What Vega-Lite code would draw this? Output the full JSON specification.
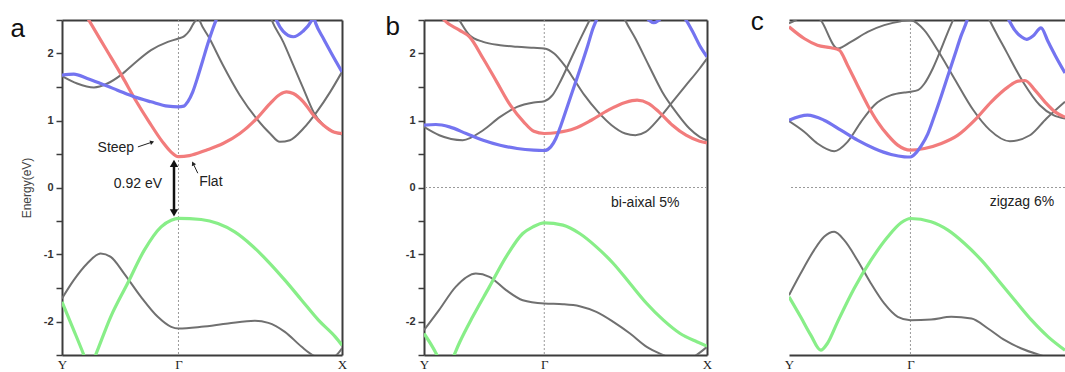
{
"$schema": "https://vega.github.io/schema/vega-lite/v6.json",
"padding": {"left": 10, "top": 9, "right": 0, "bottom": 0},
"background": "white",
"config": {
  "view": {"stroke": null},
  "font": "Liberation Sans",
  "axis": {"grid": false, "domainColor": "#3c3c3c", "domainWidth": 2, "tickColor": "#3c3c3c", "labelColor": "#333333", "titleColor": "#444444"}
},
"datasets": {
"bands": [
{"p":"a","b":"ar","c":"red","k":0.080,"e":2.61},{"p":"a","b":"ar","c":"red","k":0.096,"e":2.497},{"p":"a","b":"ar","c":"red","k":0.156,"e":2.074},{"p":"a","b":"ar","c":"red","k":0.216,"e":1.651},{"p":"a","b":"ar","c":"red","k":0.263,"e":1.303},{"p":"a","b":"ar","c":"red","k":0.311,"e":0.980},{"p":"a","b":"ar","c":"red","k":0.359,"e":0.681},{"p":"a","b":"ar","c":"red","k":0.389,"e":0.532},{"p":"a","b":"ar","c":"red","k":0.416,"e":0.460},{"p":"a","b":"ar","c":"red","k":0.455,"e":0.475},{"p":"a","b":"ar","c":"red","k":0.515,"e":0.557},{"p":"a","b":"ar","c":"red","k":0.575,"e":0.656},{"p":"a","b":"ar","c":"red","k":0.635,"e":0.806},{"p":"a","b":"ar","c":"red","k":0.695,"e":1.029},{"p":"a","b":"ar","c":"red","k":0.743,"e":1.253},{"p":"a","b":"ar","c":"red","k":0.778,"e":1.388},{"p":"a","b":"ar","c":"red","k":0.802,"e":1.427},{"p":"a","b":"ar","c":"red","k":0.826,"e":1.402},{"p":"a","b":"ar","c":"red","k":0.862,"e":1.278},{"p":"a","b":"ar","c":"red","k":0.898,"e":1.079},{"p":"a","b":"ar","c":"red","k":0.934,"e":0.929},{"p":"a","b":"ar","c":"red","k":0.970,"e":0.830},{"p":"a","b":"ar","c":"red","k":1.0,"e":0.806},
{"p":"a","b":"ab1","c":"blue","k":0.0,"e":1.677},{"p":"a","b":"ab1","c":"blue","k":0.042,"e":1.692},{"p":"a","b":"ab1","c":"blue","k":0.090,"e":1.627},{"p":"a","b":"ab1","c":"blue","k":0.138,"e":1.552},{"p":"a","b":"ab1","c":"blue","k":0.198,"e":1.453},{"p":"a","b":"ab1","c":"blue","k":0.258,"e":1.353},{"p":"a","b":"ab1","c":"blue","k":0.318,"e":1.279},{"p":"a","b":"ab1","c":"blue","k":0.378,"e":1.214},{"p":"a","b":"ab1","c":"blue","k":0.416,"e":1.204},{"p":"a","b":"ab1","c":"blue","k":0.435,"e":1.214},{"p":"a","b":"ab1","c":"blue","k":0.449,"e":1.279},{"p":"a","b":"ab1","c":"blue","k":0.467,"e":1.428},{"p":"a","b":"ab1","c":"blue","k":0.485,"e":1.652},{"p":"a","b":"ab1","c":"blue","k":0.503,"e":1.900},{"p":"a","b":"ab1","c":"blue","k":0.521,"e":2.149},{"p":"a","b":"ab1","c":"blue","k":0.539,"e":2.373},{"p":"a","b":"ab1","c":"blue","k":0.557,"e":2.572},
{"p":"a","b":"ab2","c":"blue","k":0.755,"e":2.62},{"p":"a","b":"ab2","c":"blue","k":0.766,"e":2.497},{"p":"a","b":"ab2","c":"blue","k":0.790,"e":2.33},{"p":"a","b":"ab2","c":"blue","k":0.826,"e":2.25},{"p":"a","b":"ab2","c":"blue","k":0.860,"e":2.33},{"p":"a","b":"ab2","c":"blue","k":0.892,"e":2.497},{"p":"a","b":"ab2","c":"blue","k":0.898,"e":2.55},{"p":"a","b":"ab2","c":"blue","k":0.906,"e":2.45},{"p":"a","b":"ab2","c":"blue","k":0.934,"e":2.22},{"p":"a","b":"ab2","c":"blue","k":0.964,"e":1.99},{"p":"a","b":"ab2","c":"blue","k":1.0,"e":1.726},
{"p":"a","b":"ag","c":"green","k":0.0,"e":-1.706},{"p":"a","b":"ag","c":"green","k":0.04,"e":-2.11},{"p":"a","b":"ag","c":"green","k":0.078,"e":-2.5},{"p":"a","b":"ag","c":"green","k":0.098,"e":-2.72},{"p":"a","b":"ag","c":"green","k":0.12,"e":-2.5},{"p":"a","b":"ag","c":"green","k":0.174,"e":-1.93},{"p":"a","b":"ag","c":"green","k":0.234,"e":-1.433},{"p":"a","b":"ag","c":"green","k":0.294,"e":-0.935},{"p":"a","b":"ag","c":"green","k":0.354,"e":-0.587},{"p":"a","b":"ag","c":"green","k":0.390,"e":-0.488},{"p":"a","b":"ag","c":"green","k":0.416,"e":-0.460},{"p":"a","b":"ag","c":"green","k":0.497,"e":-0.478},{"p":"a","b":"ag","c":"green","k":0.557,"e":-0.537},{"p":"a","b":"ag","c":"green","k":0.617,"e":-0.662},{"p":"a","b":"ag","c":"green","k":0.677,"e":-0.861},{"p":"a","b":"ag","c":"green","k":0.737,"e":-1.109},{"p":"a","b":"ag","c":"green","k":0.796,"e":-1.383},{"p":"a","b":"ag","c":"green","k":0.856,"e":-1.682},{"p":"a","b":"ag","c":"green","k":0.916,"e":-1.980},{"p":"a","b":"ag","c":"green","k":0.976,"e":-2.229},{"p":"a","b":"ag","c":"green","k":1.0,"e":-2.353},
{"p":"a","b":"ak1","c":"gray","k":0.0,"e":1.662},{"p":"a","b":"ak1","c":"gray","k":0.054,"e":1.552},{"p":"a","b":"ak1","c":"gray","k":0.114,"e":1.493},{"p":"a","b":"ak1","c":"gray","k":0.162,"e":1.552},{"p":"a","b":"ak1","c":"gray","k":0.210,"e":1.677},{"p":"a","b":"ak1","c":"gray","k":0.258,"e":1.851},{"p":"a","b":"ak1","c":"gray","k":0.318,"e":2.050},{"p":"a","b":"ak1","c":"gray","k":0.378,"e":2.174},{"p":"a","b":"ak1","c":"gray","k":0.416,"e":2.224},{"p":"a","b":"ak1","c":"gray","k":0.437,"e":2.26},{"p":"a","b":"ak1","c":"gray","k":0.455,"e":2.34},{"p":"a","b":"ak1","c":"gray","k":0.470,"e":2.45},{"p":"a","b":"ak1","c":"gray","k":0.479,"e":2.50},{"p":"a","b":"ak1","c":"gray","k":0.49,"e":2.58},
{"p":"a","b":"ak2","c":"gray","k":0.484,"e":2.58},{"p":"a","b":"ak2","c":"gray","k":0.491,"e":2.497},{"p":"a","b":"ak2","c":"gray","k":0.527,"e":2.223},{"p":"a","b":"ak2","c":"gray","k":0.575,"e":1.825},{"p":"a","b":"ak2","c":"gray","k":0.635,"e":1.378},{"p":"a","b":"ak2","c":"gray","k":0.695,"e":1.029},{"p":"a","b":"ak2","c":"gray","k":0.743,"e":0.806},{"p":"a","b":"ak2","c":"gray","k":0.778,"e":0.681},{"p":"a","b":"ak2","c":"gray","k":0.814,"e":0.706},{"p":"a","b":"ak2","c":"gray","k":0.862,"e":0.880},{"p":"a","b":"ak2","c":"gray","k":0.910,"e":1.129},{"p":"a","b":"ak2","c":"gray","k":0.958,"e":1.427},{"p":"a","b":"ak2","c":"gray","k":1.0,"e":1.726},
{"p":"a","b":"ak3","c":"gray","k":0.738,"e":2.62},{"p":"a","b":"ak3","c":"gray","k":0.749,"e":2.497},{"p":"a","b":"ak3","c":"gray","k":0.790,"e":2.174},{"p":"a","b":"ak3","c":"gray","k":0.826,"e":1.825},{"p":"a","b":"ak3","c":"gray","k":0.862,"e":1.477},{"p":"a","b":"ak3","c":"gray","k":0.898,"e":1.129},{"p":"a","b":"ak3","c":"gray","k":0.934,"e":0.930},{"p":"a","b":"ak3","c":"gray","k":0.970,"e":0.830},{"p":"a","b":"ak3","c":"gray","k":1.0,"e":0.791},
{"p":"a","b":"ak4","c":"gray","k":0.0,"e":-1.657},{"p":"a","b":"ak4","c":"gray","k":0.042,"e":-1.383},{"p":"a","b":"ak4","c":"gray","k":0.090,"e":-1.134},{"p":"a","b":"ak4","c":"gray","k":0.138,"e":-0.985},{"p":"a","b":"ak4","c":"gray","k":0.174,"e":-1.035},{"p":"a","b":"ak4","c":"gray","k":0.222,"e":-1.284},{"p":"a","b":"ak4","c":"gray","k":0.282,"e":-1.632},{"p":"a","b":"ak4","c":"gray","k":0.342,"e":-1.930},{"p":"a","b":"ak4","c":"gray","k":0.390,"e":-2.080},{"p":"a","b":"ak4","c":"gray","k":0.416,"e":-2.104},{"p":"a","b":"ak4","c":"gray","k":0.497,"e":-2.080},{"p":"a","b":"ak4","c":"gray","k":0.593,"e":-2.030},{"p":"a","b":"ak4","c":"gray","k":0.689,"e":-1.990},{"p":"a","b":"ak4","c":"gray","k":0.737,"e":-2.020},{"p":"a","b":"ak4","c":"gray","k":0.796,"e":-2.154},{"p":"a","b":"ak4","c":"gray","k":0.856,"e":-2.378},{"p":"a","b":"ak4","c":"gray","k":0.892,"e":-2.493},{"p":"a","b":"ak4","c":"gray","k":0.928,"e":-2.55},{"p":"a","b":"ak4","c":"gray","k":0.970,"e":-2.53},{"p":"a","b":"ak4","c":"gray","k":1.0,"e":-2.40},

{"p":"b","b":"br","c":"red","k":0.06,"e":2.56},{"p":"b","b":"br","c":"red","k":0.072,"e":2.497},{"p":"b","b":"br","c":"red","k":0.125,"e":2.348},{"p":"b","b":"br","c":"red","k":0.161,"e":2.248},{"p":"b","b":"br","c":"red","k":0.209,"e":1.925},{"p":"b","b":"br","c":"red","k":0.257,"e":1.577},{"p":"b","b":"br","c":"red","k":0.305,"e":1.228},{"p":"b","b":"br","c":"red","k":0.352,"e":0.980},{"p":"b","b":"br","c":"red","k":0.388,"e":0.840},{"p":"b","b":"br","c":"red","k":0.425,"e":0.806},{"p":"b","b":"br","c":"red","k":0.472,"e":0.821},{"p":"b","b":"br","c":"red","k":0.532,"e":0.880},{"p":"b","b":"br","c":"red","k":0.591,"e":1.004},{"p":"b","b":"br","c":"red","k":0.651,"e":1.154},{"p":"b","b":"br","c":"red","k":0.711,"e":1.268},{"p":"b","b":"br","c":"red","k":0.753,"e":1.303},{"p":"b","b":"br","c":"red","k":0.794,"e":1.253},{"p":"b","b":"br","c":"red","k":0.830,"e":1.129},{"p":"b","b":"br","c":"red","k":0.878,"e":0.930},{"p":"b","b":"br","c":"red","k":0.926,"e":0.780},{"p":"b","b":"br","c":"red","k":0.974,"e":0.691},{"p":"b","b":"br","c":"red","k":1.0,"e":0.666},
{"p":"b","b":"bb1","c":"blue","k":0.0,"e":0.930},{"p":"b","b":"bb1","c":"blue","k":0.042,"e":0.940},{"p":"b","b":"bb1","c":"blue","k":0.090,"e":0.905},{"p":"b","b":"bb1","c":"blue","k":0.149,"e":0.806},{"p":"b","b":"bb1","c":"blue","k":0.209,"e":0.706},{"p":"b","b":"bb1","c":"blue","k":0.269,"e":0.631},{"p":"b","b":"bb1","c":"blue","k":0.329,"e":0.582},{"p":"b","b":"bb1","c":"blue","k":0.388,"e":0.557},{"p":"b","b":"bb1","c":"blue","k":0.425,"e":0.552},{"p":"b","b":"bb1","c":"blue","k":0.448,"e":0.607},{"p":"b","b":"bb1","c":"blue","k":0.466,"e":0.731},{"p":"b","b":"bb1","c":"blue","k":0.484,"e":0.930},{"p":"b","b":"bb1","c":"blue","k":0.508,"e":1.228},{"p":"b","b":"bb1","c":"blue","k":0.532,"e":1.527},{"p":"b","b":"bb1","c":"blue","k":0.556,"e":1.825},{"p":"b","b":"bb1","c":"blue","k":0.579,"e":2.124},{"p":"b","b":"bb1","c":"blue","k":0.597,"e":2.373},{"p":"b","b":"bb1","c":"blue","k":0.609,"e":2.497},{"p":"b","b":"bb1","c":"blue","k":0.62,"e":2.6},
{"p":"b","b":"bb2","c":"blue","k":0.771,"e":2.621},{"p":"b","b":"bb2","c":"blue","k":0.795,"e":2.497},{"p":"b","b":"bb2","c":"blue","k":0.812,"e":2.46},{"p":"b","b":"bb2","c":"blue","k":0.830,"e":2.497},{"p":"b","b":"bb2","c":"blue","k":0.854,"e":2.621},{"p":"b","b":"bb2","c":"blue","k":0.878,"e":2.72},{"p":"b","b":"bb2","c":"blue","k":0.902,"e":2.621},{"p":"b","b":"bb2","c":"blue","k":0.926,"e":2.497},{"p":"b","b":"bb2","c":"blue","k":0.950,"e":2.32},{"p":"b","b":"bb2","c":"blue","k":0.974,"e":2.12},{"p":"b","b":"bb2","c":"blue","k":1.0,"e":1.95},
{"p":"b","b":"bg","c":"green","k":0.0,"e":-2.179},{"p":"b","b":"bg","c":"green","k":0.030,"e":-2.378},{"p":"b","b":"bg","c":"green","k":0.056,"e":-2.577},{"p":"b","b":"bg","c":"green","k":0.077,"e":-2.726},{"p":"b","b":"bg","c":"green","k":0.098,"e":-2.577},{"p":"b","b":"bg","c":"green","k":0.124,"e":-2.328},{"p":"b","b":"bg","c":"green","k":0.172,"e":-1.930},{"p":"b","b":"bg","c":"green","k":0.231,"e":-1.483},{"p":"b","b":"bg","c":"green","k":0.290,"e":-1.035},{"p":"b","b":"bg","c":"green","k":0.349,"e":-0.687},{"p":"b","b":"bg","c":"green","k":0.385,"e":-0.587},{"p":"b","b":"bg","c":"green","k":0.425,"e":-0.527},{"p":"b","b":"bg","c":"green","k":0.491,"e":-0.562},{"p":"b","b":"bg","c":"green","k":0.550,"e":-0.687},{"p":"b","b":"bg","c":"green","k":0.609,"e":-0.886},{"p":"b","b":"bg","c":"green","k":0.669,"e":-1.134},{"p":"b","b":"bg","c":"green","k":0.728,"e":-1.433},{"p":"b","b":"bg","c":"green","k":0.787,"e":-1.731},{"p":"b","b":"bg","c":"green","k":0.846,"e":-1.980},{"p":"b","b":"bg","c":"green","k":0.905,"e":-2.179},{"p":"b","b":"bg","c":"green","k":0.964,"e":-2.303},{"p":"b","b":"bg","c":"green","k":1.0,"e":-2.368},
{"p":"b","b":"bk1","c":"gray","k":0.0,"e":0.905},{"p":"b","b":"bk1","c":"gray","k":0.054,"e":0.780},{"p":"b","b":"bk1","c":"gray","k":0.137,"e":0.706},{"p":"b","b":"bk1","c":"gray","k":0.209,"e":0.855},{"p":"b","b":"bk1","c":"gray","k":0.269,"e":1.054},{"p":"b","b":"bk1","c":"gray","k":0.329,"e":1.203},{"p":"b","b":"bk1","c":"gray","k":0.388,"e":1.268},{"p":"b","b":"bk1","c":"gray","k":0.425,"e":1.288},{"p":"b","b":"bk1","c":"gray","k":0.454,"e":1.378},{"p":"b","b":"bk1","c":"gray","k":0.484,"e":1.601},{"p":"b","b":"bk1","c":"gray","k":0.520,"e":1.925},{"p":"b","b":"bk1","c":"gray","k":0.556,"e":2.248},{"p":"b","b":"bk1","c":"gray","k":0.585,"e":2.497},{"p":"b","b":"bk1","c":"gray","k":0.595,"e":2.58},
{"p":"b","b":"bk2","c":"gray","k":0.11,"e":2.6},{"p":"b","b":"bk2","c":"gray","k":0.125,"e":2.497},{"p":"b","b":"bk2","c":"gray","k":0.161,"e":2.273},{"p":"b","b":"bk2","c":"gray","k":0.209,"e":2.174},{"p":"b","b":"bk2","c":"gray","k":0.269,"e":2.124},{"p":"b","b":"bk2","c":"gray","k":0.329,"e":2.099},{"p":"b","b":"bk2","c":"gray","k":0.388,"e":2.084},{"p":"b","b":"bk2","c":"gray","k":0.425,"e":2.074},{"p":"b","b":"bk2","c":"gray","k":0.460,"e":1.999},{"p":"b","b":"bk2","c":"gray","k":0.496,"e":1.825},{"p":"b","b":"bk2","c":"gray","k":0.532,"e":1.601},{"p":"b","b":"bk2","c":"gray","k":0.567,"e":1.378},{"p":"b","b":"bk2","c":"gray","k":0.615,"e":1.129},{"p":"b","b":"bk2","c":"gray","k":0.663,"e":0.930},{"p":"b","b":"bk2","c":"gray","k":0.711,"e":0.806},{"p":"b","b":"bk2","c":"gray","k":0.747,"e":0.781},{"p":"b","b":"bk2","c":"gray","k":0.783,"e":0.830},{"p":"b","b":"bk2","c":"gray","k":0.830,"e":1.029},{"p":"b","b":"bk2","c":"gray","k":0.878,"e":1.278},{"p":"b","b":"bk2","c":"gray","k":0.926,"e":1.527},{"p":"b","b":"bk2","c":"gray","k":0.974,"e":1.776},{"p":"b","b":"bk2","c":"gray","k":1.0,"e":1.925},
{"p":"b","b":"bk3","c":"gray","k":0.70,"e":2.6},{"p":"b","b":"bk3","c":"gray","k":0.711,"e":2.497},{"p":"b","b":"bk3","c":"gray","k":0.747,"e":2.223},{"p":"b","b":"bk3","c":"gray","k":0.794,"e":1.825},{"p":"b","b":"bk3","c":"gray","k":0.842,"e":1.427},{"p":"b","b":"bk3","c":"gray","k":0.890,"e":1.129},{"p":"b","b":"bk3","c":"gray","k":0.938,"e":0.880},{"p":"b","b":"bk3","c":"gray","k":0.974,"e":0.756},{"p":"b","b":"bk3","c":"gray","k":1.0,"e":0.706},
{"p":"b","b":"bk4","c":"gray","k":0.0,"e":-2.129},{"p":"b","b":"bk4","c":"gray","k":0.053,"e":-1.831},{"p":"b","b":"bk4","c":"gray","k":0.112,"e":-1.483},{"p":"b","b":"bk4","c":"gray","k":0.183,"e":-1.284},{"p":"b","b":"bk4","c":"gray","k":0.231,"e":-1.333},{"p":"b","b":"bk4","c":"gray","k":0.290,"e":-1.532},{"p":"b","b":"bk4","c":"gray","k":0.349,"e":-1.682},{"p":"b","b":"bk4","c":"gray","k":0.425,"e":-1.731},{"p":"b","b":"bk4","c":"gray","k":0.491,"e":-1.741},{"p":"b","b":"bk4","c":"gray","k":0.550,"e":-1.771},{"p":"b","b":"bk4","c":"gray","k":0.609,"e":-1.856},{"p":"b","b":"bk4","c":"gray","k":0.669,"e":-2.005},{"p":"b","b":"bk4","c":"gray","k":0.728,"e":-2.179},{"p":"b","b":"bk4","c":"gray","k":0.787,"e":-2.378},{"p":"b","b":"bk4","c":"gray","k":0.846,"e":-2.502},{"p":"b","b":"bk4","c":"gray","k":0.905,"e":-2.602},{"p":"b","b":"bk4","c":"gray","k":0.953,"e":-2.527},{"p":"b","b":"bk4","c":"gray","k":1.0,"e":-2.378},

{"p":"c","b":"cr","c":"red","k":0.0,"e":2.398},{"p":"c","b":"cr","c":"red","k":0.055,"e":2.224},{"p":"c","b":"cr","c":"red","k":0.103,"e":2.124},{"p":"c","b":"cr","c":"red","k":0.152,"e":2.085},{"p":"c","b":"cr","c":"red","k":0.182,"e":2.050},{"p":"c","b":"cr","c":"red","k":0.212,"e":1.826},{"p":"c","b":"cr","c":"red","k":0.248,"e":1.527},{"p":"c","b":"cr","c":"red","k":0.285,"e":1.229},{"p":"c","b":"cr","c":"red","k":0.321,"e":0.980},{"p":"c","b":"cr","c":"red","k":0.358,"e":0.781},{"p":"c","b":"cr","c":"red","k":0.394,"e":0.632},{"p":"c","b":"cr","c":"red","k":0.44,"e":0.557},{"p":"c","b":"cr","c":"red","k":0.491,"e":0.582},{"p":"c","b":"cr","c":"red","k":0.552,"e":0.657},{"p":"c","b":"cr","c":"red","k":0.612,"e":0.781},{"p":"c","b":"cr","c":"red","k":0.673,"e":1.005},{"p":"c","b":"cr","c":"red","k":0.733,"e":1.279},{"p":"c","b":"cr","c":"red","k":0.794,"e":1.502},{"p":"c","b":"cr","c":"red","k":0.830,"e":1.587},{"p":"c","b":"cr","c":"red","k":0.855,"e":1.597},{"p":"c","b":"cr","c":"red","k":0.891,"e":1.453},{"p":"c","b":"cr","c":"red","k":0.927,"e":1.279},{"p":"c","b":"cr","c":"red","k":0.964,"e":1.129},{"p":"c","b":"cr","c":"red","k":1.0,"e":1.05},
{"p":"c","b":"cb1","c":"blue","k":0.0,"e":1.005},{"p":"c","b":"cb1","c":"blue","k":0.067,"e":1.080},{"p":"c","b":"cb1","c":"blue","k":0.127,"e":1.005},{"p":"c","b":"cb1","c":"blue","k":0.188,"e":0.856},{"p":"c","b":"cb1","c":"blue","k":0.248,"e":0.706},{"p":"c","b":"cb1","c":"blue","k":0.309,"e":0.582},{"p":"c","b":"cb1","c":"blue","k":0.370,"e":0.493},{"p":"c","b":"cb1","c":"blue","k":0.418,"e":0.458},{"p":"c","b":"cb1","c":"blue","k":0.44,"e":0.455},{"p":"c","b":"cb1","c":"blue","k":0.461,"e":0.52},{"p":"c","b":"cb1","c":"blue","k":0.479,"e":0.62},{"p":"c","b":"cb1","c":"blue","k":0.503,"e":0.80},{"p":"c","b":"cb1","c":"blue","k":0.527,"e":1.07},{"p":"c","b":"cb1","c":"blue","k":0.552,"e":1.37},{"p":"c","b":"cb1","c":"blue","k":0.576,"e":1.67},{"p":"c","b":"cb1","c":"blue","k":0.600,"e":1.97},{"p":"c","b":"cb1","c":"blue","k":0.624,"e":2.27},{"p":"c","b":"cb1","c":"blue","k":0.645,"e":2.497},{"p":"c","b":"cb1","c":"blue","k":0.652,"e":2.6},
{"p":"c","b":"cb2","c":"blue","k":0.782,"e":2.62},{"p":"c","b":"cb2","c":"blue","k":0.797,"e":2.497},{"p":"c","b":"cb2","c":"blue","k":0.818,"e":2.348},{"p":"c","b":"cb2","c":"blue","k":0.842,"e":2.249},{"p":"c","b":"cb2","c":"blue","k":0.861,"e":2.21},{"p":"c","b":"cb2","c":"blue","k":0.885,"e":2.264},{"p":"c","b":"cb2","c":"blue","k":0.913,"e":2.383},{"p":"c","b":"cb2","c":"blue","k":0.939,"e":2.174},{"p":"c","b":"cb2","c":"blue","k":0.964,"e":1.975},{"p":"c","b":"cb2","c":"blue","k":1.0,"e":1.71},
{"p":"c","b":"cg","c":"green","k":0.0,"e":-1.632},{"p":"c","b":"cg","c":"green","k":0.042,"e":-1.930},{"p":"c","b":"cg","c":"green","k":0.079,"e":-2.204},{"p":"c","b":"cg","c":"green","k":0.115,"e":-2.428},{"p":"c","b":"cg","c":"green","k":0.139,"e":-2.328},{"p":"c","b":"cg","c":"green","k":0.176,"e":-2.005},{"p":"c","b":"cg","c":"green","k":0.236,"e":-1.507},{"p":"c","b":"cg","c":"green","k":0.297,"e":-1.085},{"p":"c","b":"cg","c":"green","k":0.358,"e":-0.736},{"p":"c","b":"cg","c":"green","k":0.406,"e":-0.527},{"p":"c","b":"cg","c":"green","k":0.44,"e":-0.463},{"p":"c","b":"cg","c":"green","k":0.515,"e":-0.512},{"p":"c","b":"cg","c":"green","k":0.576,"e":-0.637},{"p":"c","b":"cg","c":"green","k":0.636,"e":-0.836},{"p":"c","b":"cg","c":"green","k":0.697,"e":-1.085},{"p":"c","b":"cg","c":"green","k":0.758,"e":-1.383},{"p":"c","b":"cg","c":"green","k":0.818,"e":-1.682},{"p":"c","b":"cg","c":"green","k":0.879,"e":-1.980},{"p":"c","b":"cg","c":"green","k":0.939,"e":-2.229},{"p":"c","b":"cg","c":"green","k":1.0,"e":-2.428},
{"p":"c","b":"ck1","c":"gray","k":0.0,"e":0.990},{"p":"c","b":"ck1","c":"gray","k":0.055,"e":0.831},{"p":"c","b":"ck1","c":"gray","k":0.103,"e":0.657},{"p":"c","b":"ck1","c":"gray","k":0.164,"e":0.542},{"p":"c","b":"ck1","c":"gray","k":0.212,"e":0.682},{"p":"c","b":"ck1","c":"gray","k":0.261,"e":0.980},{"p":"c","b":"ck1","c":"gray","k":0.309,"e":1.229},{"p":"c","b":"ck1","c":"gray","k":0.370,"e":1.378},{"p":"c","b":"ck1","c":"gray","k":0.418,"e":1.418},{"p":"c","b":"ck1","c":"gray","k":0.44,"e":1.428},{"p":"c","b":"ck1","c":"gray","k":0.467,"e":1.453},{"p":"c","b":"ck1","c":"gray","k":0.491,"e":1.552},{"p":"c","b":"ck1","c":"gray","k":0.521,"e":1.776},{"p":"c","b":"ck1","c":"gray","k":0.552,"e":2.075},{"p":"c","b":"ck1","c":"gray","k":0.576,"e":2.323},{"p":"c","b":"ck1","c":"gray","k":0.594,"e":2.497},{"p":"c","b":"ck1","c":"gray","k":0.604,"e":2.6},
{"p":"c","b":"ck2","c":"gray","k":0.0,"e":2.45},{"p":"c","b":"ck2","c":"gray","k":0.024,"e":2.497},{"p":"c","b":"ck2","c":"gray","k":0.07,"e":2.65},{"p":"c","b":"ck2","c":"gray","k":0.115,"e":2.497},{"p":"c","b":"ck2","c":"gray","k":0.176,"e":2.075},{"p":"c","b":"ck2","c":"gray","k":0.224,"e":2.174},{"p":"c","b":"ck2","c":"gray","k":0.285,"e":2.323},{"p":"c","b":"ck2","c":"gray","k":0.345,"e":2.423},{"p":"c","b":"ck2","c":"gray","k":0.406,"e":2.483},{"p":"c","b":"ck2","c":"gray","k":0.44,"e":2.497},{"p":"c","b":"ck2","c":"gray","k":0.49,"e":2.35},{"p":"c","b":"ck2","c":"gray","k":0.54,"e":2.04},{"p":"c","b":"ck2","c":"gray","k":0.60,"e":1.62},{"p":"c","b":"ck2","c":"gray","k":0.667,"e":1.16},{"p":"c","b":"ck2","c":"gray","k":0.727,"e":0.86},{"p":"c","b":"ck2","c":"gray","k":0.80,"e":0.69},{"p":"c","b":"ck2","c":"gray","k":0.873,"e":0.78},{"p":"c","b":"ck2","c":"gray","k":0.933,"e":1.03},{"p":"c","b":"ck2","c":"gray","k":1.0,"e":1.28},
{"p":"c","b":"ck3","c":"gray","k":0.715,"e":2.6},{"p":"c","b":"ck3","c":"gray","k":0.727,"e":2.497},{"p":"c","b":"ck3","c":"gray","k":0.788,"e":2.024},{"p":"c","b":"ck3","c":"gray","k":0.848,"e":1.576},{"p":"c","b":"ck3","c":"gray","k":0.909,"e":1.228},{"p":"c","b":"ck3","c":"gray","k":0.958,"e":1.079},{"p":"c","b":"ck3","c":"gray","k":1.0,"e":1.03},
{"p":"c","b":"ck4","c":"gray","k":0.0,"e":-1.607},{"p":"c","b":"ck4","c":"gray","k":0.042,"e":-1.284},{"p":"c","b":"ck4","c":"gray","k":0.091,"e":-0.935},{"p":"c","b":"ck4","c":"gray","k":0.127,"e":-0.736},{"p":"c","b":"ck4","c":"gray","k":0.164,"e":-0.662},{"p":"c","b":"ck4","c":"gray","k":0.2,"e":-0.786},{"p":"c","b":"ck4","c":"gray","k":0.248,"e":-1.085},{"p":"c","b":"ck4","c":"gray","k":0.297,"e":-1.433},{"p":"c","b":"ck4","c":"gray","k":0.345,"e":-1.731},{"p":"c","b":"ck4","c":"gray","k":0.394,"e":-1.930},{"p":"c","b":"ck4","c":"gray","k":0.44,"e":-1.980},{"p":"c","b":"ck4","c":"gray","k":0.515,"e":-1.970},{"p":"c","b":"ck4","c":"gray","k":0.588,"e":-1.930},{"p":"c","b":"ck4","c":"gray","k":0.661,"e":-1.955},{"p":"c","b":"ck4","c":"gray","k":0.721,"e":-2.104},{"p":"c","b":"ck4","c":"gray","k":0.782,"e":-2.279},{"p":"c","b":"ck4","c":"gray","k":0.842,"e":-2.403},{"p":"c","b":"ck4","c":"gray","k":0.903,"e":-2.493},{"p":"c","b":"ck4","c":"gray","k":0.952,"e":-2.55},{"p":"c","b":"ck4","c":"gray","k":1.0,"e":-2.58}
],
"gammas": [{"p":"a","k":0.416},{"p":"b","k":0.425},{"p":"c","k":0.44}],
"zeros": [{"p":"b","e":0},{"p":"c","e":0}],
"panelLabels": [
{"p":"a","t":"a","k":-0.184,"e":2.243},
{"p":"b","t":"b","k":-0.136,"e":2.273},
{"p":"c","t":"c","k":-0.139,"e":2.348}
],
"notes": [
{"p":"a","t":"Steep","k":0.127,"e":0.594},
{"p":"a","t":"Flat","k":0.49,"e":0.079},
{"p":"a","t":"0.92 eV","k":0.185,"e":0.05},
{"p":"b","t":"bi-aixal 5%","k":0.661,"e":-0.234},
{"p":"c","t":"zigzag 6%","k":0.727,"e":-0.22}
],
"thinArrows": [
{"p":"a","k":0.271,"e":0.606,"k2":0.318,"e2":0.672},
{"p":"a","k":0.485,"e":0.213,"k2":0.471,"e2":0.335}
],
"thickArrows": [
{"p":"a","k":0.40,"e":0.36,"k2":0.40,"e2":-0.38}
],
"smallHeads": [
{"p":"a","k":0.322,"e":0.678,"ang":72},
{"p":"a","k":0.468,"e":0.36,"ang":333}
],
"bigHeads": [
{"p":"a","k":0.40,"e":0.36,"ang":0},
{"p":"a","k":0.40,"e":-0.38,"ang":180}
]
},
"spacing": 82,
"bounds": "flush",
"hconcat": [
{
 "width": 280, "height": 335,
 "layer": [
  {"data": {"name": "gammas"}, "transform": [{"filter": "datum.p=='a'"}],
   "mark": {"type": "rule", "strokeDash": [2, 2], "color": "#9a9a9a", "strokeWidth": 1},
   "encoding": {"x": {"field": "k", "type": "quantitative", "scale": {"domain": [0, 1], "nice": false, "zero": false}, "axis": {"orient": "top", "labels": false, "ticks": false, "domain": true, "title": null}}}},
  {"data": {"name": "bands"}, "transform": [{"filter": "datum.p=='a' && datum.c=='gray'"}],
   "mark": {"type": "line", "interpolate": "monotone", "clip": true, "strokeWidth": 2, "color": "#707070"},
   "encoding": {
    "x": {"field": "k", "type": "quantitative", "scale": {"domain": [0, 1], "nice": false, "zero": false}, "axis": {"orient": "bottom", "values": [0, 0.416, 1], "labelExpr": "datum.value == 0 ? 'Y' : (datum.value == 1 ? 'X' : 'Γ')", "ticks": false, "labelFlush": false, "labelFont": "Liberation Serif", "labelFontSize": 13, "labelColor": "#222222", "labelPadding": 3, "title": null}},
    "y": {"field": "e", "type": "quantitative", "scale": {"domain": [-2.5, 2.5], "nice": false, "zero": false}, "axis": {"orient": "left", "values": [-2.5, -2, -1.5, -1, -0.5, 0, 0.5, 1, 1.5, 2, 2.5], "labelExpr": "datum.value % 1 == 0 ? (datum.value < 0 ? '-' + (-datum.value) : '' + datum.value) : ''", "tickSize": 6, "tickWidth": 1.5, "labelPadding": 3, "labelFontSize": 11, "labelFontWeight": "bold", "title": "Energy(eV)", "titleFontSize": 12, "titleFontWeight": "normal", "titlePadding": 10}},
    "detail": {"field": "b"}}},
  {"data": {"name": "bands"}, "transform": [{"filter": "datum.p=='a' && datum.c!='gray'"}],
   "mark": {"type": "line", "interpolate": "monotone", "clip": true, "strokeWidth": 3.2},
   "encoding": {
    "x": {"field": "k", "type": "quantitative", "scale": {"domain": [0, 1], "nice": false, "zero": false}, "axis": null},
    "y": {"field": "e", "type": "quantitative", "scale": {"domain": [-2.5, 2.5], "nice": false, "zero": false}, "axis": {"orient": "right", "labels": false, "ticks": false, "domain": true, "title": null}},
    "color": {"field": "c", "type": "nominal", "scale": {"domain": ["red", "blue", "green"], "range": ["#f27c7c", "#7474f0", "#88ee88"]}, "legend": null},
    "detail": {"field": "b"}}},
  {"data": {"name": "thinArrows"}, "transform": [{"filter": "datum.p=='a'"}],
   "mark": {"type": "rule", "color": "#222222", "strokeWidth": 1},
   "encoding": {"x": {"field": "k", "type": "quantitative", "axis": null}, "y": {"field": "e", "type": "quantitative", "axis": null}, "x2": {"field": "k2"}, "y2": {"field": "e2"}}},
  {"data": {"name": "smallHeads"}, "transform": [{"filter": "datum.p=='a'"}],
   "mark": {"type": "point", "shape": "triangle-up", "filled": true, "color": "#222222", "size": 22, "opacity": 1},
   "encoding": {"x": {"field": "k", "type": "quantitative", "axis": null}, "y": {"field": "e", "type": "quantitative", "axis": null}, "angle": {"field": "ang", "type": "quantitative", "scale": null}}},
  {"data": {"name": "thickArrows"}, "transform": [{"filter": "datum.p=='a'"}],
   "mark": {"type": "rule", "color": "#111111", "strokeWidth": 2.5},
   "encoding": {"x": {"field": "k", "type": "quantitative", "axis": null}, "y": {"field": "e", "type": "quantitative", "axis": null}, "x2": {"field": "k2"}, "y2": {"field": "e2"}}},
  {"data": {"name": "bigHeads"}, "transform": [{"filter": "datum.p=='a'"}],
   "mark": {"type": "point", "shape": "triangle-up", "filled": true, "color": "#111111", "size": 70, "opacity": 1},
   "encoding": {"x": {"field": "k", "type": "quantitative", "axis": null}, "y": {"field": "e", "type": "quantitative", "axis": null}, "angle": {"field": "ang", "type": "quantitative", "scale": null}}},
  {"data": {"name": "notes"}, "transform": [{"filter": "datum.p=='a'"}],
   "mark": {"type": "text", "align": "left", "baseline": "middle", "fontSize": 14, "color": "#222222", "font": "Liberation Sans"},
   "encoding": {"x": {"field": "k", "type": "quantitative", "axis": null}, "y": {"field": "e", "type": "quantitative", "axis": null}, "text": {"field": "t"}}},
  {"data": {"name": "panelLabels"}, "transform": [{"filter": "datum.p=='a'"}],
   "mark": {"type": "text", "align": "left", "baseline": "alphabetic", "fontSize": 26, "color": "#111111", "font": "Liberation Sans"},
   "encoding": {"x": {"field": "k", "type": "quantitative", "axis": null}, "y": {"field": "e", "type": "quantitative", "axis": null}, "text": {"field": "t"}}}
 ]
},
{
 "width": 283, "height": 335,
 "layer": [
  {"data": {"name": "gammas"}, "transform": [{"filter": "datum.p=='b'"}],
   "mark": {"type": "rule", "strokeDash": [2, 2], "color": "#9a9a9a", "strokeWidth": 1},
   "encoding": {"x": {"field": "k", "type": "quantitative", "scale": {"domain": [0, 1], "nice": false, "zero": false}, "axis": {"orient": "top", "labels": false, "ticks": false, "domain": true, "title": null}}}},
  {"data": {"name": "zeros"}, "transform": [{"filter": "datum.p=='b'"}],
   "mark": {"type": "rule", "strokeDash": [2, 2], "color": "#9a9a9a", "strokeWidth": 1},
   "encoding": {"y": {"field": "e", "type": "quantitative", "scale": {"domain": [-2.5, 2.5], "nice": false, "zero": false}, "axis": null}}},
  {"data": {"name": "bands"}, "transform": [{"filter": "datum.p=='b' && datum.c=='gray'"}],
   "mark": {"type": "line", "interpolate": "monotone", "clip": true, "strokeWidth": 2, "color": "#707070"},
   "encoding": {
    "x": {"field": "k", "type": "quantitative", "scale": {"domain": [0, 1], "nice": false, "zero": false}, "axis": {"orient": "bottom", "values": [0, 0.425, 1], "labelExpr": "datum.value == 0 ? 'Y' : (datum.value == 1 ? 'X' : 'Γ')", "ticks": false, "labelFlush": false, "labelFont": "Liberation Serif", "labelFontSize": 13, "labelColor": "#222222", "labelPadding": 3, "title": null}},
    "y": {"field": "e", "type": "quantitative", "scale": {"domain": [-2.5, 2.5], "nice": false, "zero": false}, "axis": {"orient": "left", "values": [-2.5, -2, -1.5, -1, -0.5, 0, 0.5, 1, 1.5, 2, 2.5], "labelExpr": "datum.value % 1 == 0 ? (datum.value < 0 ? '-' + (-datum.value) : '' + datum.value) : ''", "tickSize": 6, "tickWidth": 1.5, "labelPadding": 3, "labelFontSize": 11, "labelFontWeight": "bold", "title": null}},
    "detail": {"field": "b"}}},
  {"data": {"name": "bands"}, "transform": [{"filter": "datum.p=='b' && datum.c!='gray'"}],
   "mark": {"type": "line", "interpolate": "monotone", "clip": true, "strokeWidth": 3.2},
   "encoding": {
    "x": {"field": "k", "type": "quantitative", "scale": {"domain": [0, 1], "nice": false, "zero": false}, "axis": null},
    "y": {"field": "e", "type": "quantitative", "scale": {"domain": [-2.5, 2.5], "nice": false, "zero": false}, "axis": {"orient": "right", "labels": false, "ticks": false, "domain": true, "title": null}},
    "color": {"field": "c", "type": "nominal", "scale": {"domain": ["red", "blue", "green"], "range": ["#f27c7c", "#7474f0", "#88ee88"]}, "legend": null},
    "detail": {"field": "b"}}},
  {"data": {"name": "notes"}, "transform": [{"filter": "datum.p=='b'"}],
   "mark": {"type": "text", "align": "left", "baseline": "middle", "fontSize": 14, "color": "#222222", "font": "Liberation Sans"},
   "encoding": {"x": {"field": "k", "type": "quantitative", "axis": null}, "y": {"field": "e", "type": "quantitative", "axis": null}, "text": {"field": "t"}}},
  {"data": {"name": "panelLabels"}, "transform": [{"filter": "datum.p=='b'"}],
   "mark": {"type": "text", "align": "left", "baseline": "alphabetic", "fontSize": 26, "color": "#111111", "font": "Liberation Sans"},
   "encoding": {"x": {"field": "k", "type": "quantitative", "axis": null}, "y": {"field": "e", "type": "quantitative", "axis": null}, "text": {"field": "t"}}}
 ]
},
{
 "width": 276, "height": 335,
 "layer": [
  {"data": {"name": "gammas"}, "transform": [{"filter": "datum.p=='c'"}],
   "mark": {"type": "rule", "strokeDash": [2, 2], "color": "#9a9a9a", "strokeWidth": 1},
   "encoding": {"x": {"field": "k", "type": "quantitative", "scale": {"domain": [0, 1], "nice": false, "zero": false}, "axis": {"orient": "top", "labels": false, "ticks": false, "domain": true, "title": null}}}},
  {"data": {"name": "zeros"}, "transform": [{"filter": "datum.p=='c'"}],
   "mark": {"type": "rule", "strokeDash": [2, 2], "color": "#9a9a9a", "strokeWidth": 1},
   "encoding": {"y": {"field": "e", "type": "quantitative", "scale": {"domain": [-2.5, 2.5], "nice": false, "zero": false}, "axis": null}}},
  {"data": {"name": "bands"}, "transform": [{"filter": "datum.p=='c' && datum.c=='gray'"}],
   "mark": {"type": "line", "interpolate": "monotone", "clip": true, "strokeWidth": 2, "color": "#707070"},
   "encoding": {
    "x": {"field": "k", "type": "quantitative", "scale": {"domain": [0, 1], "nice": false, "zero": false}, "axis": {"orient": "bottom", "values": [0, 0.44], "labelExpr": "datum.value == 0 ? 'Y' : 'Γ'", "ticks": false, "labelFlush": false, "labelFont": "Liberation Serif", "labelFontSize": 13, "labelColor": "#222222", "labelPadding": 3, "title": null}},
    "y": {"field": "e", "type": "quantitative", "scale": {"domain": [-2.5, 2.5], "nice": false, "zero": false}, "axis": {"orient": "left", "values": [-2.5, -2, -1.5, -1, -0.5, 0, 0.5, 1, 1.5, 2, 2.5], "labelExpr": "datum.value % 1 == 0 ? (datum.value < 0 ? '-' + (-datum.value) : '' + datum.value) : ''", "tickSize": 6, "tickWidth": 1.5, "labelPadding": 3, "labelFontSize": 11, "labelFontWeight": "bold", "title": null}},
    "detail": {"field": "b"}}},
  {"data": {"name": "bands"}, "transform": [{"filter": "datum.p=='c' && datum.c!='gray'"}],
   "mark": {"type": "line", "interpolate": "monotone", "clip": true, "strokeWidth": 3.2},
   "encoding": {
    "x": {"field": "k", "type": "quantitative", "scale": {"domain": [0, 1], "nice": false, "zero": false}, "axis": null},
    "y": {"field": "e", "type": "quantitative", "scale": {"domain": [-2.5, 2.5], "nice": false, "zero": false}, "axis": null},
    "color": {"field": "c", "type": "nominal", "scale": {"domain": ["red", "blue", "green"], "range": ["#f27c7c", "#7474f0", "#88ee88"]}, "legend": null},
    "detail": {"field": "b"}}},
  {"data": {"name": "notes"}, "transform": [{"filter": "datum.p=='c'"}],
   "mark": {"type": "text", "align": "left", "baseline": "middle", "fontSize": 14, "color": "#222222", "font": "Liberation Sans"},
   "encoding": {"x": {"field": "k", "type": "quantitative", "axis": null}, "y": {"field": "e", "type": "quantitative", "axis": null}, "text": {"field": "t"}}},
  {"data": {"name": "panelLabels"}, "transform": [{"filter": "datum.p=='c'"}],
   "mark": {"type": "text", "align": "left", "baseline": "alphabetic", "fontSize": 26, "color": "#111111", "font": "Liberation Sans"},
   "encoding": {"x": {"field": "k", "type": "quantitative", "axis": null}, "y": {"field": "e", "type": "quantitative", "axis": null}, "text": {"field": "t"}}}
 ]
}
]
}
